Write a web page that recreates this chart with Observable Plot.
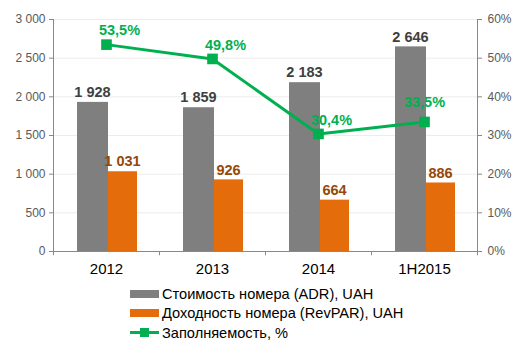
<!DOCTYPE html>
<html>
<head>
<meta charset="utf-8">
<script src="https://cdn.jsdelivr.net/npm/d3@7"></script>
<script src="https://cdn.jsdelivr.net/npm/@observablehq/plot@0.6"></script>
<style>
  body { margin: 0; background: #fff; font-family: "Liberation Sans", Arial, sans-serif; }
  #wrap { position: relative; width: 529px; height: 354px; }
  #legend { position: absolute; left: 130px; top: 284px; font-size: 14.6px; color: #000; }
  .row { display: flex; align-items: center; height: 19.5px; }
  .sw { width: 29px; height: 8px; margin-right: 3px; }
  .ln { width: 29px; height: 3px; background: #00B050; position: relative; margin-right: 3px; }
  .ln::after { content: ""; position: absolute; left: 10px; top: -3px; width: 9px; height: 9px; background: #00B050; }
</style>
</head>
<body>
<div id="wrap"><div id="chart"></div>
<div id="legend">
  <div class="row"><div class="sw" style="background:#7F7F7F"></div>Стоимость номера (ADR), UAH</div>
  <div class="row"><div class="sw" style="background:#E46C0A"></div>Доходность номера (RevPAR), UAH</div>
  <div class="row"><div class="ln"></div>Заполняемость, %</div>
</div>
</div>
<script>
const years = ["2012", "2013", "2014", "1H2015"];
const adr = [1928, 1859, 2183, 2646];
const revpar = [1031, 926, 664, 886];
const occupancy = [53.5, 49.8, 30.4, 33.5];
const occLabels = ["53,5%", "49,8%", "30,4%", "33,5%"];
const yTicks = [0, 500, 1000, 1500, 2000, 2500, 3000];
const pctTicks = [0, 10, 20, 30, 40, 50, 60];

const scaleRatio = 3000 / 60;
const rows = years.map((y, i) => ({year: y, adr: adr[i], revpar: revpar[i], occ: occupancy[i], occLabel: occLabels[i], i}));
const fmt = d => d3.format(",")(d).replace(/,/g, " ");

const chart = Plot.plot({
  width: 529,
  height: 282,
  marginLeft: 53,
  marginRight: 52,
  marginTop: 19,
  marginBottom: 31,
  style: {fontFamily: "Liberation Sans, Arial, sans-serif", background: "#fff"},
  x: {domain: years, padding: 0, label: null},
  y: {domain: [0, 3000], label: null},
  marks: [
    Plot.ruleY(yTicks.slice(1), {stroke: "#ececec", strokeWidth: 1}),
    Plot.barY(rows, {x: "year", y: "adr", fill: "#7F7F7F", insetLeft: 24, insetRight: 51}),
    Plot.barY(rows, {x: "year", y: "revpar", fill: "#E46C0A", insetLeft: 55, insetRight: 22}),
    Plot.text(rows, {x: "year", y: "adr", text: d => fmt(d.adr), dx: -14, dy: -10, fill: "#404040", fontSize: 14.5, fontWeight: "bold"}),
    Plot.text(rows, {x: "year", y: "revpar", text: d => fmt(d.revpar), dx: 16, dy: -10, fill: "#974806", fontSize: 14.5, fontWeight: "bold"}),
    Plot.ruleY([0], {stroke: "#888", strokeWidth: 1}),
    Plot.ruleX(years, {x: d => d, dx: -53, y1: 0, y2: -55, stroke: "#888"}),
    Plot.ruleX([years[years.length - 1]], {x: d => d, dx: 53, y1: 0, y2: -55, stroke: "#888"}),
    Plot.frame({anchor: "left", stroke: "#888"}),
    Plot.frame({anchor: "right", stroke: "#888"}),
    Plot.axisY({anchor: "left", ticks: yTicks, tickFormat: fmt, tickSize: 4, tickPadding: 4, fontSize: 12, color: "#595959", stroke: "#888"}),
    Plot.axisY({anchor: "right", ticks: pctTicks.map(p => p * scaleRatio), tickFormat: d => (d / scaleRatio) + "%", tickSize: 4, tickPadding: 6, fontSize: 12, color: "#595959", stroke: "#888"}),
    Plot.axisX({tickSize: 0, tickPadding: 12, fontSize: 15, fill: "#000"}),
    Plot.line(rows, {x: "year", y: d => d.occ * scaleRatio, stroke: "#00B050", strokeWidth: 3}),
    Plot.dot(rows, {x: "year", y: d => d.occ * scaleRatio, symbol: "square", r: 6, fill: "#00B050", stroke: null}),
    Plot.text(rows.filter(d => d.i < 3), {x: "year", y: d => d.occ * scaleRatio, text: "occLabel", dx: 13, dy: -14, fill: "#00B050", fontSize: 14.5, fontWeight: "bold"}),
    Plot.text(rows.filter(d => d.i === 3), {x: "year", y: d => d.occ * scaleRatio, text: "occLabel", dx: 0, dy: -20, fill: "#00B050", fontSize: 14.5, fontWeight: "bold"})
  ]
});
document.getElementById("chart").appendChild(chart);
</script>
</body>
</html>
